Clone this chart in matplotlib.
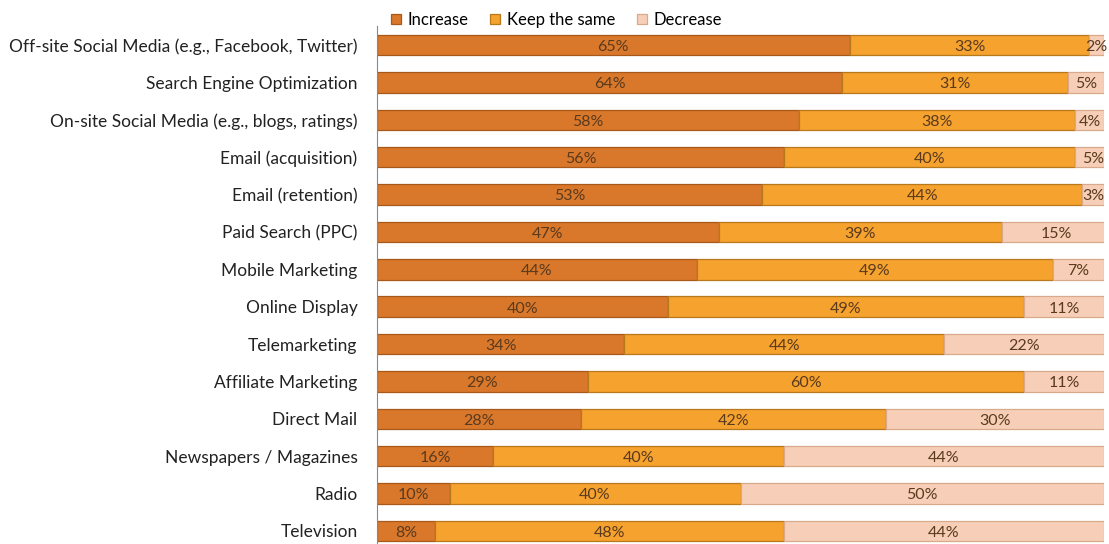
import numpy as np
import matplotlib.pyplot as plt

plt.rcParams['font.family'] = ['Lato', 'DejaVu Sans']

# 데이터
channels = [
    "Off-site Social Media (e.g., Facebook, Twitter)",
    "Search Engine Optimization",
    "On-site Social Media (e.g., blogs, ratings)",
    "Email (acquisition)",
    "Email (retention)",
    "Paid Search (PPC)",
    "Mobile Marketing",
    "Online Display",
    "Telemarketing",
    "Affiliate Marketing",
    "Direct Mail",
    "Newspapers / Magazines",
    "Radio",
    "Television",
]
increase = [65, 64, 58, 56, 53, 47, 44, 40, 34, 29, 28, 16, 10, 8]
keep_same = [33, 31, 38, 40, 44, 39, 49, 49, 44, 60, 42, 40, 40, 48]
decrease = [2, 5, 4, 5, 3, 15, 7, 11, 22, 11, 30, 44, 50, 44]

series = [
    ("Increase", increase, "#D9782B", "#A85818"),
    ("Keep the same", keep_same, "#F5A22E", "#B8781C"),
    ("Decrease", decrease, "#F7CFB8", "#D9A98C"),
]

fig = plt.figure(figsize=(11.09, 5.44), dpi=100)
ax = fig.add_axes([377 / 1109, 0, 727 / 1109, 518 / 544])

y = np.arange(len(channels))
left = np.zeros(len(channels))
for name, vals, col, edge in series:
    vals = np.array(vals, dtype=float)
    ax.barh(y, vals, left=left, height=0.55, color=col, edgecolor=edge,
            linewidth=0.9, label=name)
    for yi, l, v in zip(y, left, vals):
        ax.text(l + v / 2, yi + 0.05, f"{int(v)}%", ha="center", va="center",
                fontsize=11.5, color="#5A3A1E")
    left += vals

ax.set_xlim(0, 100)
ax.set_ylim(13.35, -0.51)
ax.set_yticks(y)
ax.set_yticklabels(channels, fontsize=12.5, color="#222222")
ax.tick_params(axis="y", length=0, pad=14)
ax.set_xticks([])
for s in ["top", "right", "bottom"]:
    ax.spines[s].set_visible(False)
ax.spines["left"].set_color("#888888")

fig.legend(loc="upper left", bbox_to_anchor=(376 / 1109, 1.006), ncol=3,
           frameon=False, fontsize=12, handlelength=0.6, handleheight=0.6,
           columnspacing=1.3, handletextpad=0.4)

plt.savefig("out.png", dpi=100)
